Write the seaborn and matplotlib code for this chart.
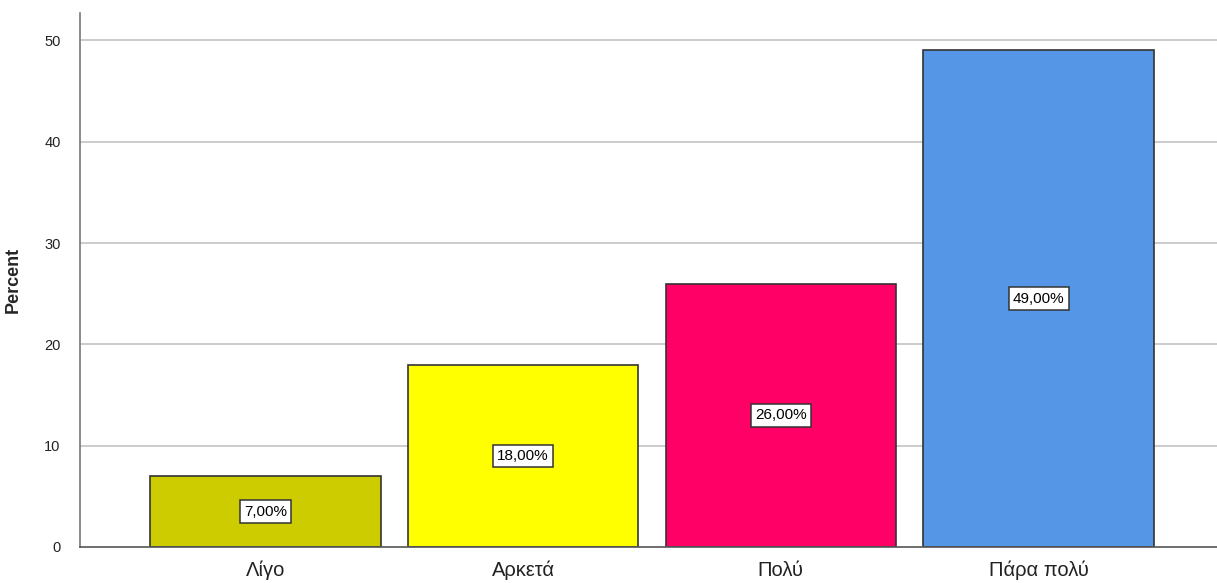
import matplotlib
matplotlib.use("Agg")
import matplotlib.pyplot as plt
import seaborn as sns
import pandas as pd

categories = ["Λίγο", "Αρκετά", "Πολύ", "Πάρα πολύ"]
percent = [7.0, 18.0, 26.0, 49.0]
bar_colors = ["#CCCC00", "#FFFF00", "#FF0066", "#5596E6"]
y_ticks = [0, 10, 20, 30, 40, 50]

sns.set_theme(style="white")
plt.rcParams['font.family'] = ['Liberation Sans', 'DejaVu Sans']

df = pd.DataFrame({"cat": categories, "pct": percent})

fig = plt.figure(figsize=(12.17, 5.83), dpi=100)
ax = fig.add_axes([80 / 1217, 36 / 583, 1 - 80 / 1217, (547 - 13) / 583])

# griglia dietro le barre
for t in y_ticks[1:]:
    ax.axhline(t, color="#C8C8C8", lw=1.3, zorder=0)

sns.barplot(data=df, x="cat", y="pct", hue="cat", palette=bar_colors,
            saturation=1, width=0.895, edgecolor="#333333", linewidth=1.2,
            legend=False, ax=ax, zorder=2)

# etichette percentuali al centro delle barre
for i, v in enumerate(percent):
    ax.text(i, v / 2, f"{v:.2f}%".replace(".", ","), ha="center", va="center",
            fontsize=11, color="black", zorder=3,
            bbox=dict(boxstyle="square,pad=0.28", fc="white", ec="#333333", lw=1.1))

ax.set_xlim(-0.719, 3.692)
ax.set_ylim(0, 52.7)
ax.set_yticks(y_ticks)
ax.set_yticklabels([str(t) for t in y_ticks], fontsize=10.5, color="#222222")
ax.tick_params(axis="x", labelsize=14.5, colors="#222222", length=0, pad=10)
ax.tick_params(axis="y", length=0, pad=14)
ax.set_xlabel("")
ax.set_ylabel("Percent", fontsize=13, fontweight="bold", labelpad=16)

for side in ["top", "right"]:
    ax.spines[side].set_visible(False)
ax.spines["left"].set_color("#777777")
ax.spines["bottom"].set_color("#555555")
ax.spines["left"].set_linewidth(1.2)
ax.spines["bottom"].set_linewidth(1.2)

fig.savefig("out.png", dpi=100)
